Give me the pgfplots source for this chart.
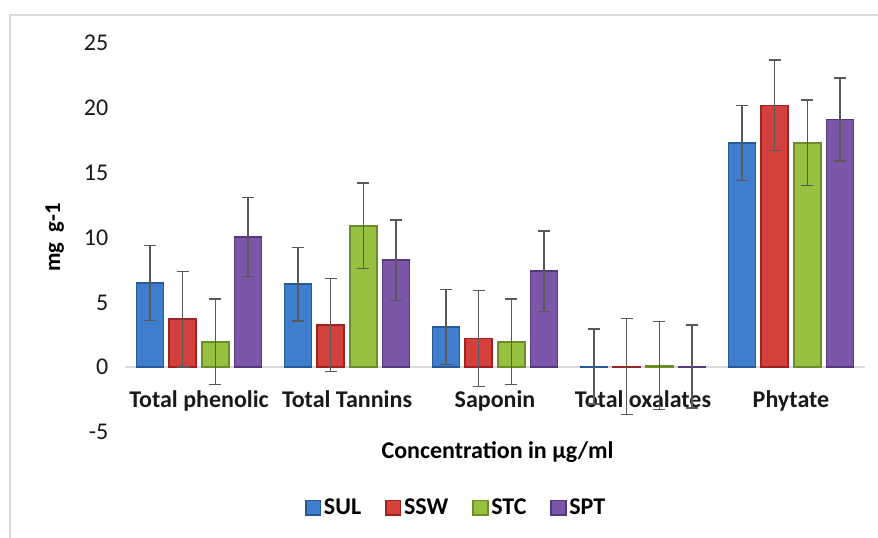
\documentclass[border=0pt]{standalone}
\usepackage{pgfplots}
\pgfplotsset{compat=1.18}
\usepackage{pgfplotstable}
\usepackage{fontspec}
\setmainfont{Carlito}
\definecolor{bM}{RGB}{62,126,204}\definecolor{bR}{RGB}{40,88,152}
\definecolor{rM}{RGB}{212,64,60}\definecolor{rR}{RGB}{158,36,36}
\definecolor{gM}{RGB}{152,192,64}\definecolor{gR}{RGB}{108,142,40}
\definecolor{pM}{RGB}{124,86,168}\definecolor{pR}{RGB}{84,56,124}
\definecolor{errc}{RGB}{89,89,89}
\definecolor{framec}{RGB}{217,217,217}

\pgfplotstableread{
x y e
0 6.5 2.9
1 6.4 2.85
2 3.1 2.9
3 0.05 2.9
4 17.3 2.9
}\SUL
\pgfplotstableread{
x y e
0 3.7 3.7
1 3.25 3.6
2 2.2 3.7
3 0.05 3.7
4 20.2 3.5
}\SSW
\pgfplotstableread{
x y e
0 1.95 3.3
1 10.9 3.3
2 1.95 3.3
3 0.12 3.4
4 17.3 3.3
}\STC
\pgfplotstableread{
x y e
0 10.05 3.05
1 8.25 3.1
2 7.4 3.1
3 0.05 3.2
4 19.1 3.2
}\SPT

\begin{document}
\begin{tikzpicture}
\path[use as bounding box] (0,0) rectangle (658.5pt,403.5pt);
\draw[framec, line width=1.5pt] (7.5pt,0pt) -- (7.5pt,392.25pt) -- (658.5pt,392.25pt);
\begin{axis}[
  at={(93.75pt,79.5pt)}, anchor=south west,
  scale only axis, width=555pt, height=291.6pt,
  xmin=-0.5, xmax=4.5, ymin=-5, ymax=25,
  ytick={-5,0,5,10,15,20,25},
  xtick={0,1,2,3,4},
  xticklabels={Total phenolic, Total Tannins, Saponin, Total oxalates, Phytate},
  axis x line=middle, axis y line=left,
  x axis line style={draw=framec, line width=1.2pt, -},
  y axis line style={draw=none},
  major tick length=0pt,
  tick style={draw=none},
  /pgf/number format/assume math mode=true,
  ticklabel style={font=\fontsize{18}{20}\selectfont, text=black!90},
  xticklabel style={font=\fontsize{18}{20}\selectfont\bfseries, yshift=-14pt},
  yticklabel style={xshift=-9pt},
  ylabel={mg~~g-1},
  ylabel style={at={(axis description cs:-0.095,0.5)}, anchor=center, font=\fontsize{17}{20}\selectfont\bfseries},
  xlabel={Concentration in µg/ml},
  xlabel style={at={(axis description cs:0.5035,-0.052)}, anchor=center, font=\fontsize{18}{20}\selectfont\bfseries},
  ybar, bar width=0.182,
  clip=false,
  error bars/y dir=both, error bars/y explicit,
  error bars/error bar style={line width=1.1pt, color=errc},
  error bars/error mark options={rotate=90, mark size=4.5pt, line width=1.1pt, color=errc},
  legend style={at={(axis description cs:0.448,-0.195)}, anchor=center, draw=none, fill=none,
     font=\fontsize{18}{20}\selectfont\bfseries, legend columns=-1,
     /tikz/every even column/.append style={column sep=16pt}},
  legend image code/.code={\path[#1] (0pt,-5.5pt) rectangle (11pt,5.5pt);},
]
\addplot[fill=bM, draw=bR, line width=1.2pt, bar shift=-0.33] table[x=x,y=y,y error=e]{\SUL};
\addplot[fill=rM, draw=rR, line width=1.2pt, bar shift=-0.11] table[x=x,y=y,y error=e]{\SSW};
\addplot[fill=gM, draw=gR, line width=1.2pt, bar shift=0.11] table[x=x,y=y,y error=e]{\STC};
\addplot[fill=pM, draw=pR, line width=1.2pt, bar shift=0.33] table[x=x,y=y,y error=e]{\SPT};
\legend{SUL,SSW,STC,SPT}
\end{axis}
\end{tikzpicture}
\end{document}
